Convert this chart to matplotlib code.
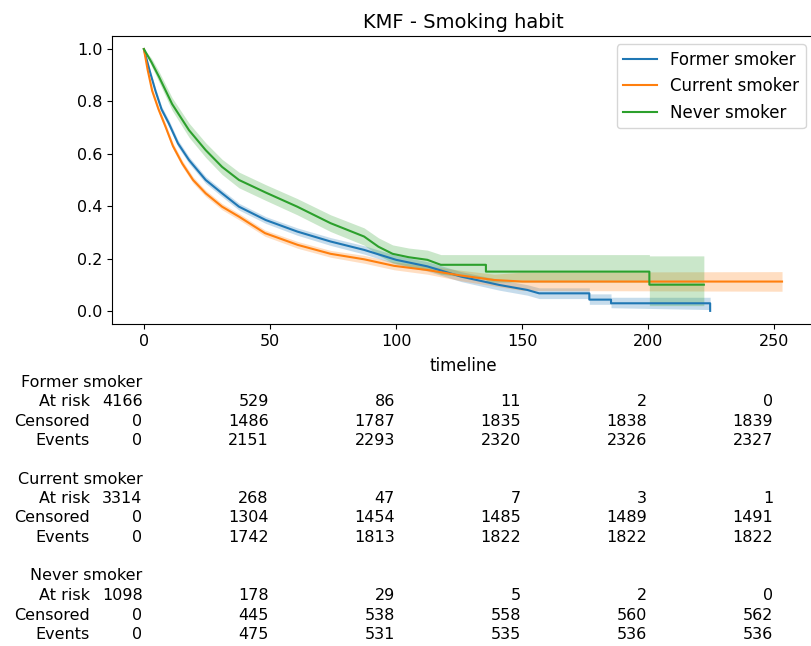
import matplotlib
matplotlib.use("Agg")
import matplotlib.pyplot as plt
from matplotlib.transforms import blended_transform_factory

# survival curves (time, survival, CI lower, CI upper)
former_t = [0, 2.5, 4.6, 7, 9.9, 13.5, 17.9, 24.5, 31, 37.7, 48.3, 60.8, 74, 87.3, 100,
            112.4, 125.7, 140.9, 152, 156.7, 176.6, 176.6, 185.2, 185.2, 224.5, 224.5]
former_s = [1.0, 0.91, 0.84, 0.77, 0.716, 0.64, 0.576, 0.5, 0.449, 0.398, 0.347, 0.303, 0.265,
            0.233, 0.195, 0.17, 0.131, 0.099, 0.08, 0.067, 0.067, 0.043, 0.043, 0.029, 0.029, 0.0]
former_lo = [1.0, 0.90, 0.828, 0.758, 0.703, 0.627, 0.563, 0.487, 0.436, 0.385, 0.334, 0.289, 0.25,
             0.217, 0.178, 0.152, 0.112, 0.079, 0.06, 0.047, 0.047, 0.025, 0.025, 0.012, 0.005, 0.005]
former_hi = [1.0, 0.92, 0.852, 0.782, 0.729, 0.653, 0.589, 0.513, 0.462, 0.411, 0.36, 0.317, 0.28,
             0.249, 0.212, 0.188, 0.15, 0.119, 0.1, 0.088, 0.088, 0.065, 0.065, 0.052, 0.052, 0.052]

current_t = [0, 1.5, 3.3, 5.8, 8.6, 11.5, 15.2, 19.5, 24.5, 31, 37.7, 48, 61, 74, 87.3, 99.2,
             112.4, 125.7, 138.9, 150, 253]
current_s = [1.0, 0.92, 0.84, 0.77, 0.703, 0.63, 0.563, 0.5, 0.449, 0.398, 0.36, 0.297, 0.252,
             0.218, 0.197, 0.172, 0.156, 0.135, 0.118, 0.112, 0.112]
current_lo = [1.0, 0.91, 0.828, 0.758, 0.691, 0.618, 0.551, 0.488, 0.437, 0.386, 0.348, 0.285, 0.239,
              0.205, 0.182, 0.157, 0.14, 0.115, 0.095, 0.078, 0.075]
current_hi = [1.0, 0.93, 0.852, 0.782, 0.715, 0.642, 0.575, 0.512, 0.461, 0.41, 0.372, 0.309, 0.265,
              0.231, 0.212, 0.187, 0.172, 0.155, 0.14, 0.148, 0.15]

never_t = [0, 3, 6, 11.2, 17.9, 24.5, 31, 37.7, 48.3, 60.8, 74, 87.3, 93, 98.6, 105, 112.4,
           117.7, 135.6, 135.6, 200.4, 200.4, 222]
never_s = [1.0, 0.95, 0.894, 0.79, 0.69, 0.614, 0.55, 0.5, 0.452, 0.398, 0.335, 0.284, 0.245,
           0.218, 0.205, 0.195, 0.176, 0.176, 0.15, 0.15, 0.10, 0.10]
never_lo = [1.0, 0.935, 0.874, 0.766, 0.663, 0.586, 0.521, 0.47, 0.422, 0.367, 0.303, 0.251, 0.212,
            0.184, 0.17, 0.158, 0.14, 0.12, 0.11, 0.11, 0.02, 0.02]
never_hi = [1.0, 0.965, 0.914, 0.814, 0.717, 0.642, 0.579, 0.53, 0.482, 0.429, 0.367, 0.317, 0.279,
            0.252, 0.24, 0.232, 0.215, 0.215, 0.215, 0.215, 0.21, 0.21]

labels = ["Former smoker", "Current smoker", "Never smoker"]
colors = ["#1f77b4", "#ff7f0e", "#2ca02c"]

# at risk table
table_ticks = [0, 50, 100, 150, 200, 250]
row_names = ["At risk", "Censored", "Events"]
former_at_risk = [4166, 529, 86, 11, 2, 0]
former_censored = [0, 1486, 1787, 1835, 1838, 1839]
former_events = [0, 2151, 2293, 2320, 2326, 2327]
current_at_risk = [3314, 268, 47, 7, 3, 1]
current_censored = [0, 1304, 1454, 1485, 1489, 1491]
current_events = [0, 1742, 1813, 1822, 1822, 1822]
never_at_risk = [1098, 178, 29, 5, 2, 0]
never_censored = [0, 445, 538, 558, 560, 562]
never_events = [0, 475, 531, 535, 536, 536]

curves = [
    (former_t, former_s, former_lo, former_hi),
    (current_t, current_s, current_lo, current_hi),
    (never_t, never_s, never_lo, never_hi),
]
tables = [
    (former_at_risk, former_censored, former_events),
    (current_at_risk, current_censored, current_events),
    (never_at_risk, never_censored, never_events),
]

fig = plt.figure(figsize=(8.12, 6.46), dpi=100)
ax = fig.add_axes([0.1379, 0.4985, 0.8645, 0.4458])

for (t, s, lo, hi), lab, c in zip(curves, labels, colors):
    ax.fill_between(t, lo, hi, color=c, alpha=0.25, linewidth=0)
    ax.plot(t, s, color=c, lw=1.5, label=lab)

ax.set_xlim(-12.65, 265.65)
ax.set_ylim(-0.05, 1.05)
ax.set_xticks(table_ticks)
ax.set_yticks([0.0, 0.2, 0.4, 0.6, 0.8, 1.0])
ax.tick_params(labelsize=11.5)
ax.set_xlabel("timeline", fontsize=12, labelpad=6)
ax.set_title("KMF - Smoking habit", fontsize=14)
ax.legend(loc="upper right", fontsize=12)

# table below the plot, one text per cell, columns lined up with the x ticks
tr = blended_transform_factory(ax.transData, fig.transFigure)
fs = 11.5
row_h = 19.5   # px between lines
group_h = 97   # px between groups


def fig_y(px):
    return 1 - px / 646


for g, (lab, rows) in enumerate(zip(labels, tables)):
    y0 = 382 + g * group_h
    ax.text(-0.5, fig_y(y0), lab, transform=tr, ha="right", va="center", fontsize=fs)
    for k, (name, vals) in enumerate(zip(row_names, rows)):
        y = fig_y(y0 + (k + 1) * row_h)
        ax.text(-21.5, y, name, transform=tr, ha="right", va="center", fontsize=fs)
        for tick, v in zip(table_ticks, vals):
            ax.text(tick - 0.5, y, str(v), transform=tr, ha="right", va="center", fontsize=fs)

fig.savefig("out.png", dpi=100)
